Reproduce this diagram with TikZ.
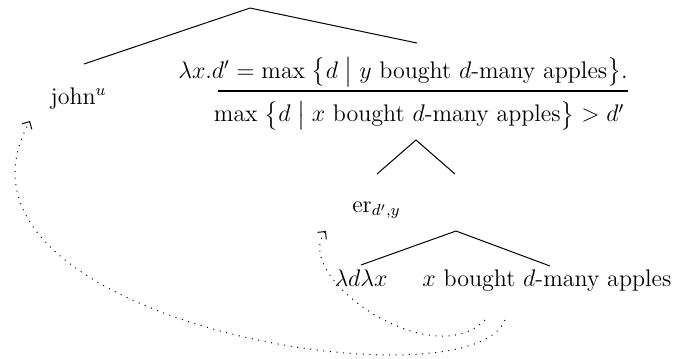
\documentclass[tikz,border=0pt,12pt]{standalone}
\usepackage{amsmath,amssymb}
\usepackage{tikz}
\usetikzlibrary{arrows.meta,calc}

\begin{document}
\begin{tikzpicture}[
    branch/.style={draw, line width=0.5pt},
    leaf/.style={anchor=base, inner sep=0pt},
    moveArrow/.style={dash pattern=on 0.5pt off 2.8pt, line width=0.5pt, -{Straight Barb[length=2.8pt,width=5.6pt]}}
]
    \useasboundingbox (0,0) rectangle (11.916,-6.309);

    % upper tree
    \coordinate (top)  at (4.394,-0.141);
    \coordinate (topL) at (1.476,-1.125);
    \coordinate (topR) at (7.329,-0.756);
    \node[leaf] (john) at (1.380,-1.828) {john$^{u}$};
    \node[leaf, anchor=base west] (num) at (3.128,-1.371)
        {$\lambda x.d' = \max\;\bigl\{d \bigm| y \text{ bought } d\text{-many apples}\bigr\}.$};
    \node[leaf] (den) at (7.364,-2.144)
        {$\max\;\bigl\{d \bigm| x \text{ bought } d\text{-many apples}\bigr\} > d'$};
    \draw[line width=0.8pt] (3.831,-1.599) -- (num.east |- 0,-1.599);
    \draw[branch] (topL) -- (top) -- (topR);

    % middle tree
    \coordinate (mid)  at (7.311,-2.461);
    \coordinate (midL) at (6.626,-3.058);
    \coordinate (midR) at (7.997,-3.058);
    \node[leaf] (er) at (6.617,-3.726) {er$_{d',y}$};
    \draw[branch] (midL) -- (mid) -- (midR);

    % lower tree
    \coordinate (low)  at (8.014,-4.060);
    \coordinate (lowL) at (6.345,-4.657);
    \coordinate (lowR) at (9.666,-4.675);
    \node[leaf] (lam) at (6.345,-5.044) {$\lambda d\lambda x$};
    \node[leaf, anchor=base west] (vp) at (7.417,-5.044) {$x$ bought $d$-many apples};
    \draw[branch] (lowL) -- (low) -- (lowR);

    % movement
    \coordinate (trX) at (8.875,-5.624);
    \coordinate (trD) at (8.524,-5.624);
    \coordinate (johnT) at (0.527,-2.127);
    \coordinate (erT) at (5.729,-4.060);
    \draw[moveArrow] (trX) .. controls (8.260,-7.206) and (-1.406,-5.624) .. (johnT);
    \draw[moveArrow] (trD) .. controls (7.557,-6.590) and (5.097,-4.833) .. (erT);
\end{tikzpicture}
\end{document}
